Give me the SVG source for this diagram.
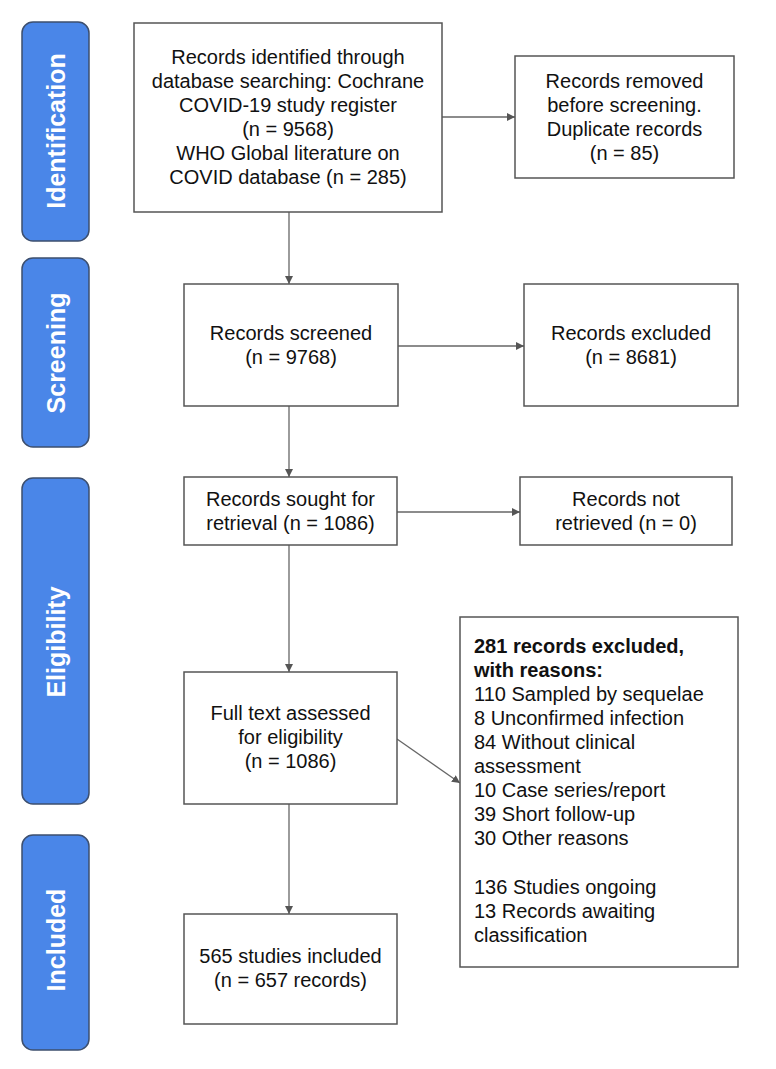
<svg xmlns="http://www.w3.org/2000/svg" width="776" height="1069" viewBox="0 0 776 1069">
<defs>
<style>
.bar{fill:#4a86e8;stroke:#3d4f6e;stroke-width:1.5}
.bl{font-family:"Liberation Sans",Arial,sans-serif;font-weight:bold;font-size:25px;fill:#fff;text-anchor:middle}
.box{fill:#fff;stroke:#555;stroke-width:1.5}
.t{font-family:"Liberation Sans",Arial,sans-serif;font-size:20px;fill:#111;text-anchor:middle}
.tl{font-family:"Liberation Sans",Arial,sans-serif;font-size:20px;fill:#111}
.c{stroke:#666;stroke-width:1.3;fill:none;marker-end:url(#ah)}
</style>
<marker id="ah" viewBox="0 0 10 10" refX="10" refY="5" markerWidth="8" markerHeight="8" markerUnits="userSpaceOnUse" orient="auto">
<path d="M0,0 L10,5 L0,10 z" fill="#555"/>
</marker>
</defs>
<rect width="776" height="1069" fill="#fff"/>

<g id="stage-identification"><rect class="bar" x="22" y="22" width="67" height="219" rx="11"/><text class="bl" transform="translate(65,131) rotate(-90)">Identification</text></g>
<g id="stage-screening"><rect class="bar" x="22" y="258" width="67" height="189" rx="11"/><text class="bl" transform="translate(65,353) rotate(-90)">Screening</text></g>
<g id="stage-eligibility"><rect class="bar" x="22" y="478" width="67" height="326" rx="11"/><text class="bl" transform="translate(65,642) rotate(-90)">Eligibility</text></g>
<g id="stage-included"><rect class="bar" x="22" y="835" width="67" height="215" rx="11"/><text class="bl" transform="translate(65,940) rotate(-90)">Included</text></g>

<g id="connectors">
<line class="c" x1="442" y1="117" x2="515" y2="117"/>
<line class="c" x1="289" y1="212" x2="289" y2="284"/>
<line class="c" x1="398" y1="346" x2="524" y2="346"/>
<line class="c" x1="289" y1="406" x2="289" y2="477"/>
<line class="c" x1="397" y1="512" x2="520" y2="512"/>
<line class="c" x1="289" y1="545" x2="289" y2="672"/>
<line class="c" x1="397" y1="739" x2="460" y2="783"/>
<line class="c" x1="289" y1="804" x2="289" y2="914"/>
</g>

<g id="identified"><rect class="box" x="134" y="23" width="308" height="189"/>
<text class="t"><tspan x="288" y="64">Records identified through</tspan><tspan x="288" y="88">database searching: Cochrane</tspan><tspan x="288" y="112">COVID-19 study register</tspan><tspan x="288" y="136">(n = 9568)</tspan><tspan x="288" y="160">WHO Global literature on</tspan><tspan x="288" y="184">COVID database (n = 285)</tspan></text></g>

<g id="removed"><rect class="box" x="515" y="56" width="219" height="122"/>
<text class="t"><tspan x="624.5" y="88">Records removed</tspan><tspan x="624.5" y="112">before screening.</tspan><tspan x="624.5" y="136">Duplicate records</tspan><tspan x="624.5" y="160">(n = 85)</tspan></text></g>

<g id="screened"><rect class="box" x="184" y="284" width="214" height="122"/>
<text class="t"><tspan x="291" y="340">Records screened</tspan><tspan x="291" y="364">(n = 9768)</tspan></text></g>

<g id="excluded"><rect class="box" x="524" y="284" width="214" height="122"/>
<text class="t"><tspan x="631" y="340">Records excluded</tspan><tspan x="631" y="364">(n = 8681)</tspan></text></g>

<g id="sought"><rect class="box" x="184" y="477" width="213" height="68"/>
<text class="t"><tspan x="290.5" y="506">Records sought for</tspan><tspan x="290.5" y="530">retrieval (n = 1086)</tspan></text></g>

<g id="not-retrieved"><rect class="box" x="520" y="477" width="212" height="68"/>
<text class="t"><tspan x="626" y="506">Records not</tspan><tspan x="626" y="530">retrieved (n = 0)</tspan></text></g>

<g id="fulltext"><rect class="box" x="184" y="672" width="213" height="132"/>
<text class="t"><tspan x="290.5" y="720">Full text assessed</tspan><tspan x="290.5" y="744">for eligibility</tspan><tspan x="290.5" y="768">(n = 1086)</tspan></text></g>

<g id="reasons"><rect class="box" x="460" y="617" width="278" height="350"/>
<text class="tl"><tspan x="474" y="653" font-weight="bold">281 records excluded,</tspan><tspan x="474" y="677" font-weight="bold">with reasons:</tspan><tspan x="474" y="701">110 Sampled by sequelae</tspan><tspan x="474" y="725">8 Unconfirmed infection</tspan><tspan x="474" y="749">84 Without clinical</tspan><tspan x="474" y="773">assessment</tspan><tspan x="474" y="797">10 Case series/report</tspan><tspan x="474" y="821">39 Short follow-up</tspan><tspan x="474" y="845">30 Other reasons</tspan><tspan x="474" y="894">136 Studies ongoing</tspan><tspan x="474" y="918">13 Records awaiting</tspan><tspan x="474" y="942">classification</tspan></text></g>

<g id="included"><rect class="box" x="184" y="914" width="213" height="110"/>
<text class="t"><tspan x="290.5" y="963">565 studies included</tspan><tspan x="290.5" y="987">(n = 657 records)</tspan></text></g>
</svg>
